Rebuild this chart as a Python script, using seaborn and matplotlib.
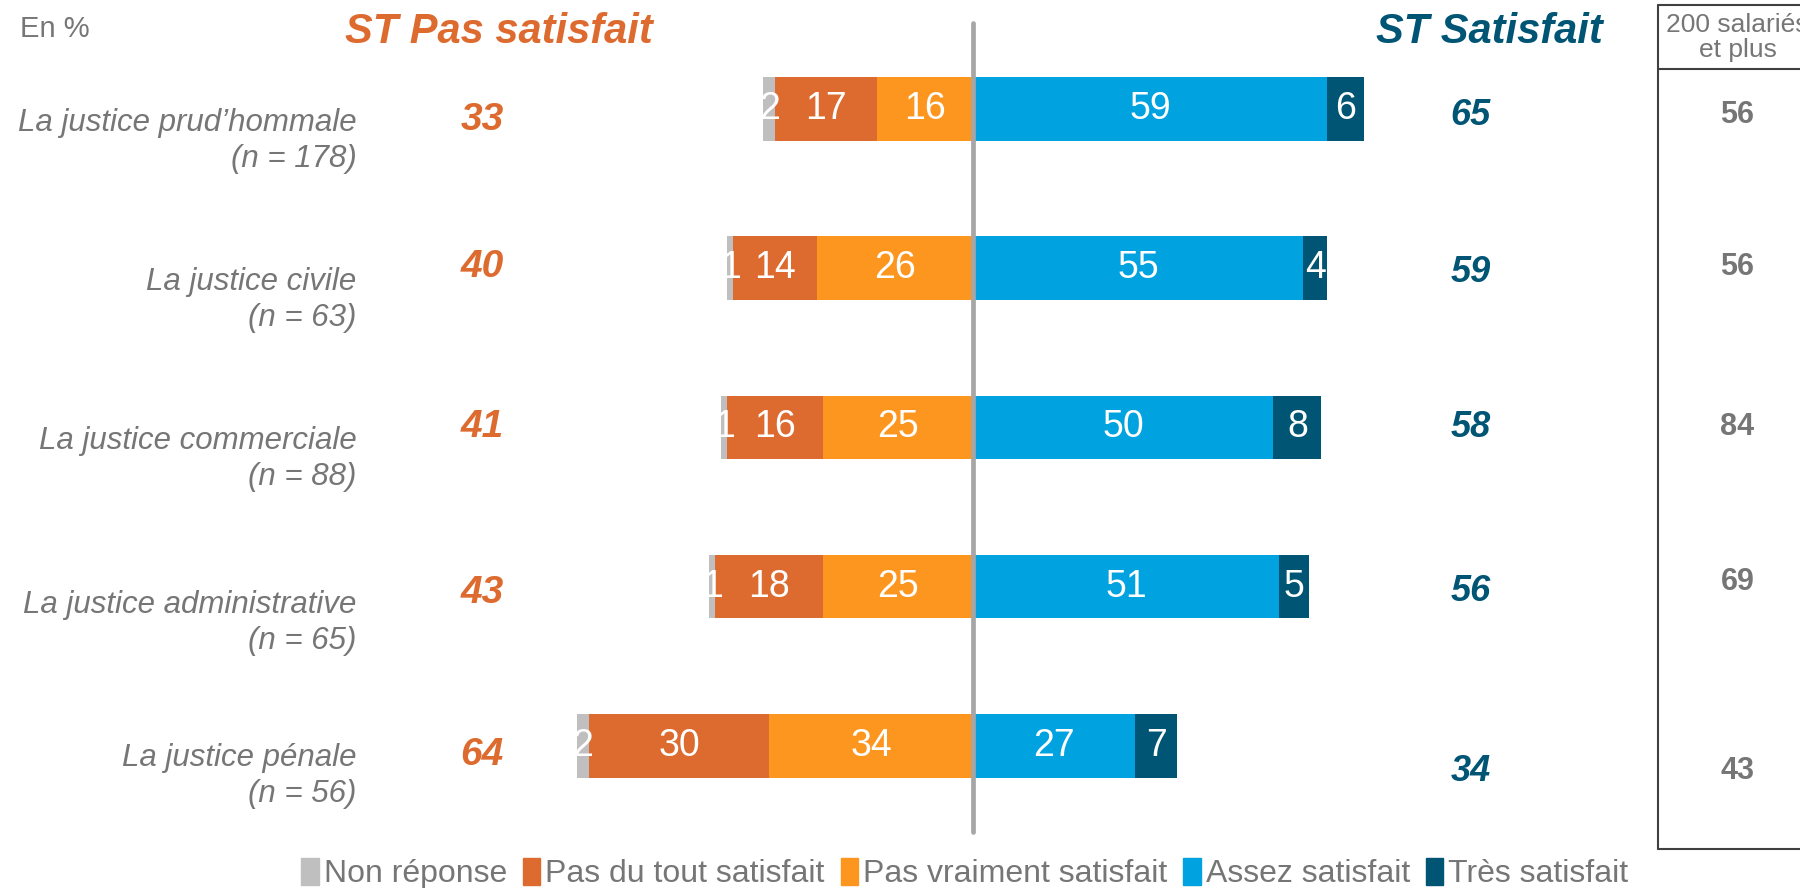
import matplotlib
matplotlib.use("Agg")
import matplotlib.pyplot as plt
import matplotlib.patches as mpatches
import pandas as pd
import seaborn as sns

sns.set_theme(style="white")
plt.rcParams["font.family"] = ["Liberation Sans", "DejaVu Sans"]

# data
categories = ["La justice prud\u2019hommale", "La justice civile", "La justice commerciale",
              "La justice administrative", "La justice p\u00e9nale"]
effectifs = ["(n = 178)", "(n = 63)", "(n = 88)", "(n = 65)", "(n = 56)"]
non_reponse = [2, 1, 1, 1, 2]
pas_du_tout = [17, 14, 16, 18, 30]
pas_vraiment = [16, 26, 25, 25, 34]
assez = [59, 55, 50, 51, 27]
tres = [6, 4, 8, 5, 7]
st_pas = [33, 40, 41, 43, 64]
st_sat = [65, 59, 58, 56, 34]
col_200 = [56, 56, 84, 69, 43]

series_names = ["Non r\u00e9ponse", "Pas du tout satisfait", "Pas vraiment satisfait",
                "Assez satisfait", "Tr\u00e8s satisfait"]
colors = ["#BFBFBF", "#DD6B2F", "#FD961E", "#00A2E0", "#005474"]
ORANGE = "#DD6B2F"
TEAL = "#005474"
GREY = "#767676"

# text vertical offsets (layout only)
label_dy = [0.2, 0.2, 0.2, 0.23, 0.19]
stp_dy = [0.07, -0.01, 0.0, 0.04, 0.06]
sts_dy = [0.04, 0.03, 0.0, 0.03, 0.16]
col_dy = [0.04, -0.01, 0.0, -0.03, 0.16]


def main():
    df = pd.DataFrame({"cat": categories, "nr": non_reponse, "pdt": pas_du_tout,
                       "pv": pas_vraiment, "as": assez, "tr": tres})
    df["left_all"] = -(df["nr"] + df["pdt"] + df["pv"])
    df["left_mid"] = -(df["pdt"] + df["pv"])
    df["left_in"] = -df["pv"]
    df["right_all"] = df["as"] + df["tr"]
    df["right_in"] = df["as"]

    fig = plt.figure(figsize=(18, 8.88), dpi=100)
    ax = fig.add_axes([0, 0, 1, 1])

    layers = [("left_all", colors[0]), ("left_mid", colors[1]), ("left_in", colors[2]),
              ("right_all", colors[4]), ("right_in", colors[3])]
    for col, c in layers:
        sns.barplot(data=df, x=col, y="cat", orient="h", color=c, width=0.4,
                    linewidth=0, saturation=1, ax=ax)

    ax.set_xlim(-162.1, 137.7)
    ax.set_ylim(4.894, -0.685)
    ax.axis("off")

    # centre line
    ax.axvline(0, ymin=0.063, ymax=0.974, color="#A6A6A6", lw=3.4, zorder=5)

    num_kw = dict(ha="center", va="center", color="white", fontsize=27,
                  family=["Liberation Sans Narrow", "Liberation Sans", "DejaVu Sans"])
    for i in range(len(categories)):
        nr, pdt, pv = non_reponse[i], pas_du_tout[i], pas_vraiment[i]
        a, t = assez[i], tres[i]
        ax.text(-(pv + pdt + nr / 2), i, str(nr), **num_kw)
        ax.text(-(pv + pdt / 2), i, str(pdt), **num_kw)
        ax.text(-pv / 2, i, str(pv), **num_kw)
        ax.text(a / 2, i, str(a), **num_kw)
        ax.text(a + t / 2, i, str(t), **num_kw)

        ax.text(-102.7, i + label_dy[i], categories[i] + "\n" + effectifs[i],
                ha="right", va="center", ma="right", style="italic",
                color=GREY, fontsize=22.5, linespacing=1.25)
        ax.text(-81.8, i + stp_dy[i], str(st_pas[i]), ha="center", va="center",
                color=ORANGE, fontsize=28, fontweight="bold", style="italic")
        ax.text(82.8, i + sts_dy[i], str(st_sat[i]), ha="center", va="center",
                color=TEAL, fontsize=26, fontweight="bold", style="italic")
        ax.text(127.3, i + col_dy[i], str(col_200[i]), ha="center", va="center",
                color=GREY, fontsize=22, fontweight="bold")

    ax.text(-79.0, -0.485, "ST Pas satisfait", ha="center", va="center",
            color=ORANGE, fontsize=30, fontweight="bold", style="italic")
    ax.text(86.0, -0.485, "ST Satisfait", ha="center", va="center",
            color=TEAL, fontsize=30, fontweight="bold", style="italic")
    ax.text(-158.7, -0.505, "En %", ha="left", va="center", color=GREY, fontsize=21)

    # right column box
    box_kw = dict(color="#404040", lw=1.5, clip_on=False)
    ax.plot([114.1, 114.1], [-0.655, 4.65], **box_kw)
    ax.plot([114.1, 140], [4.65, 4.65], **box_kw)
    ax.plot([114.1, 140], [-0.655, -0.655], **box_kw)
    ax.plot([114.1, 140], [-0.252, -0.252], **box_kw)
    ax.text(127.3, -0.447, "200 salari\u00e9s\net plus", ha="center", va="center",
            color=GREY, fontsize=19, linespacing=1.05)

    handles = [mpatches.Patch(color=c, label=n) for c, n in zip(colors, series_names)]
    fig.legend(handles=handles, loc="center", bbox_to_anchor=(0.536, 0.016), ncol=5,
               frameon=False, fontsize=23, labelcolor=GREY, handlelength=0.55,
               handleheight=0.9, handletextpad=0.15, columnspacing=0.5,
               borderaxespad=0, borderpad=0)

    fig.savefig("out.png", dpi=100)
    plt.close(fig)


if __name__ == "__main__":
    main()
